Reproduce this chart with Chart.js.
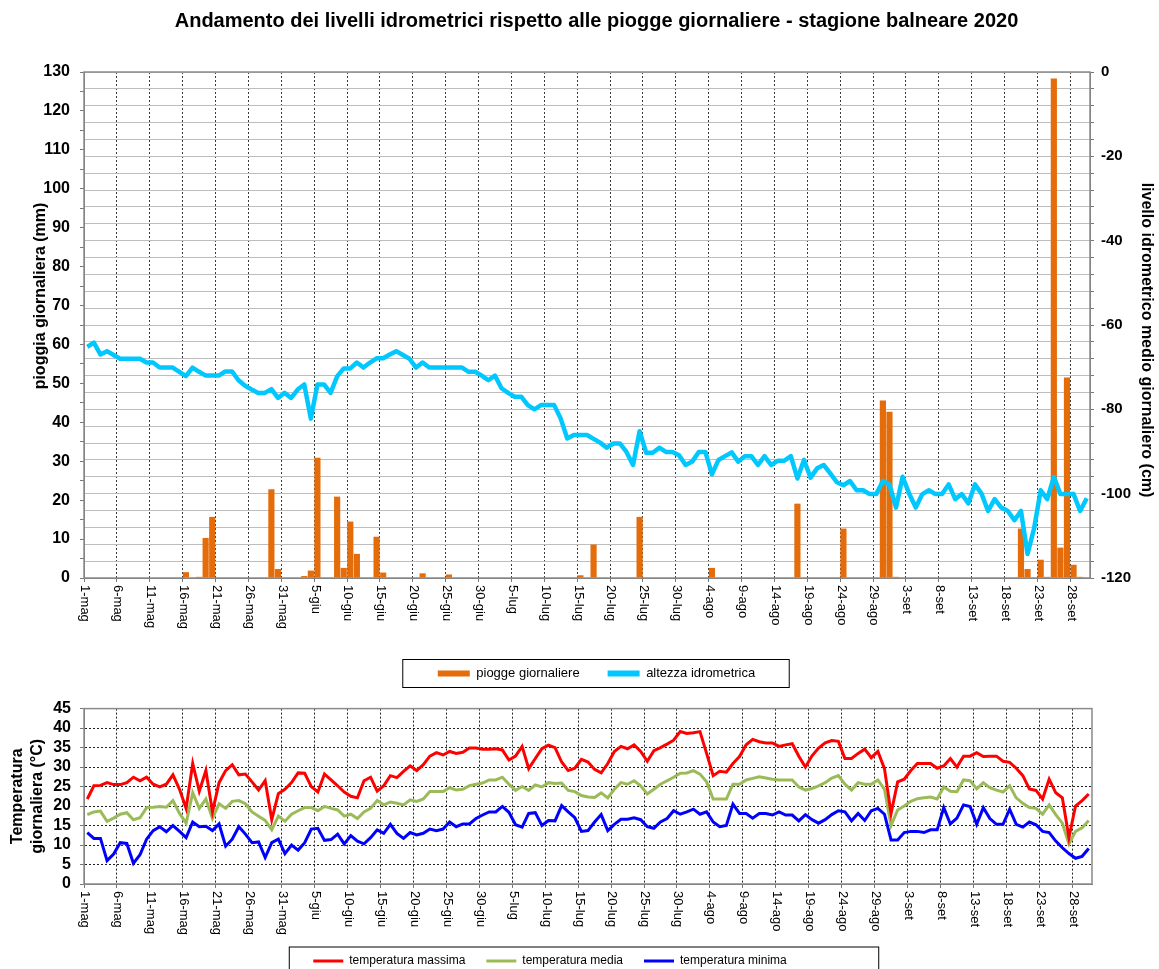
<!DOCTYPE html>
<html>
<head>
<meta charset="utf-8">
<script src="https://cdn.jsdelivr.net/npm/chart.js@4.4.0/dist/chart.umd.min.js"></script>
<style>
  body { margin: 0; background: #fff; }
  #wrap { position: relative; width: 1159px; height: 969px; overflow: hidden; }
  #top { position: absolute; left: 0; top: 0; width: 1159px; height: 690px; }
  #bottom { position: absolute; left: 0; top: 690px; width: 1159px; height: 287px; }
</style>
</head>
<body>
<div id="wrap">
  <div id="top"><canvas id="chartLivelli"></canvas></div>
  <div id="bottom"><canvas id="chartTemp"></canvas></div>
</div>
<script>
// one label every 5 days, 1-mag ... 28-set
const tickLabels = ['1-mag', '6-mag', '11-mag', '16-mag', '21-mag', '26-mag', '31-mag',
  '5-giu', '10-giu', '15-giu', '20-giu', '25-giu', '30-giu',
  '5-lug', '10-lug', '15-lug', '20-lug', '25-lug', '30-lug',
  '4-ago', '9-ago', '14-ago', '19-ago', '24-ago', '29-ago',
  '3-set', '8-set', '13-set', '18-set', '23-set', '28-set'];

// daily rain (mm), 1 May - 30 Sep 2020
const pioggia = [
  0, 0, 0, 0, 0, 0, 0, 0, 0, 0,
  0, 0, 0, 0, 0, 1.5, 0, 0.3, 10.3, 15.7,
  0, 0, 0, 0, 0, 0, 0, 0, 22.8, 2.3,
  0, 0, 0, 0.5, 1.9, 30.9, 0, 0, 20.9, 2.6,
  14.5, 6.2, 0, 0, 10.6, 1.4, 0, 0, 0, 0,
  0, 1.2, 0, 0, 0, 0.9, 0, 0, 0, 0,
  0, 0, 0, 0, 0, 0, 0, 0, 0, 0,
  0, 0, 0, 0, 0, 0.7, 0, 8.6, 0, 0,
  0, 0, 0, 0, 15.7, 0, 0, 0, 0, 0,
  0, 0, 0, 0, 0, 2.6, 0, 0, 0, 0,
  0, 0, 0, 0, 0, 0, 0, 0, 19.1, 0,
  0, 0, 0, 0, 0, 12.7, 0, 0, 0, 0,
  0, 45.6, 42.7, 0.3, 0, 0, 0, 0, 0, 0,
  0, 0, 0, 0, 0, 0, 0, 0, 0, 0,
  0, 0, 12.7, 2.3, 0, 4.7, 0.3, 128.3, 7.8, 51.5,
  3.4, 0.3, 0
];

// mean daily water level (cm)
const livello = [
  -65.2, -64.2, -67.0, -66.2, -67.1, -68.0, -68.0, -68.0, -68.0, -68.9,
  -68.9, -70.1, -70.1, -70.1, -71.1, -72.1, -70.1, -71.1, -72.0, -72.0,
  -72.0, -71.0, -71.0, -73.1, -74.4, -75.3, -76.1, -76.1, -75.2, -77.3,
  -76.1, -77.3, -75.3, -74.1, -82.2, -74.1, -74.1, -76.1, -72.2, -70.3,
  -70.3, -68.9, -70.1, -68.9, -67.9, -67.9, -67.0, -66.2, -67.1, -68.0,
  -70.1, -68.9, -70.1, -70.1, -70.1, -70.1, -70.1, -70.1, -71.1, -71.1,
  -72.0, -73.1, -72.0, -75.0, -76.1, -77.0, -77.0, -79.0, -80.0, -79.0,
  -79.0, -79.0, -82.2, -86.9, -86.1, -86.1, -86.1, -87.0, -87.9, -89.1,
  -88.1, -88.1, -90.1, -93.2, -85.2, -90.3, -90.3, -89.1, -90.1, -90.1,
  -90.9, -93.2, -92.4, -90.1, -90.1, -95.4, -92.0, -91.1, -90.2, -92.4,
  -91.1, -91.1, -93.2, -91.1, -93.2, -92.2, -92.2, -91.1, -96.4, -92.0,
  -96.2, -94.0, -93.2, -95.2, -97.3, -98.0, -97.0, -99.2, -99.2, -100.1,
  -100.1, -97.0, -97.8, -103.3, -96.0, -100.0, -103.3, -100.1, -99.2, -100.1,
  -100.1, -97.8, -101.3, -100.1, -102.3, -97.8, -100.0, -104.1, -101.3, -103.3,
  -104.1, -106.3, -104.1, -114.3, -108.2, -99.2, -101.3, -96.0, -100.1, -100.1,
  -100.1, -104.1, -101.1
];

// daily temperatures (°C)
const tMax = [
  21.8, 25.2, 25.3, 26.0, 25.5, 25.5, 26.0, 27.4, 26.5, 27.4,
  25.6, 24.9, 25.6, 28.0, 24.3, 19.4, 30.9, 23.8, 29.1, 18.5,
  26.0, 29.1, 30.6, 28.0, 28.2, 26.2, 24.1, 26.5, 16.5, 23.2,
  24.3, 26.0, 28.5, 28.4, 25.0, 23.6, 28.2, 26.7, 25.2, 23.6,
  22.5, 22.1, 26.5, 27.4, 23.8, 25.2, 27.8, 27.3, 28.9, 30.3,
  29.1, 30.6, 32.8, 33.7, 33.1, 34.0, 33.5, 33.8, 34.9, 34.9,
  34.6, 34.6, 34.7, 34.4, 31.8, 32.8, 35.3, 29.6, 32.2, 34.7,
  35.6, 35.0, 31.3, 29.1, 29.7, 32.0, 31.3, 29.4, 28.5, 30.9,
  34.0, 35.3, 34.7, 35.7, 34.0, 31.5, 34.2, 35.0, 35.9, 36.9,
  39.1, 38.6, 38.8, 39.1, 33.5, 27.8, 28.9, 28.7, 30.9, 32.7,
  35.7, 37.1, 36.5, 36.2, 36.2, 35.3, 35.7, 36.0, 32.8, 30.0,
  32.9, 34.9, 36.2, 36.8, 36.6, 32.2, 32.2, 33.5, 34.6, 32.4,
  34.0, 29.6, 18.1, 26.2, 26.9, 29.1, 30.9, 30.9, 30.9, 29.7,
  30.3, 32.2, 30.0, 32.8, 32.8, 33.7, 32.7, 32.8, 32.8, 31.5,
  31.2, 29.7, 27.8, 24.4, 24.0, 21.8, 26.9, 23.4, 22.1, 11.9,
  20.0, 21.4, 23.1
];
const tMed = [
  17.8, 18.5, 18.7, 16.1, 16.9, 17.9, 18.3, 16.5, 17.0, 19.6,
  19.7, 19.9, 19.7, 21.4, 18.1, 15.6, 23.4, 19.4, 21.8, 16.8,
  20.6, 19.4, 21.2, 21.4, 20.6, 18.5, 17.4, 16.3, 13.9, 17.4,
  16.1, 17.9, 18.8, 19.6, 19.6, 18.8, 19.9, 19.4, 19.0, 17.4,
  17.9, 16.8, 18.5, 19.4, 21.4, 20.3, 21.0, 20.7, 20.3, 21.6,
  21.2, 21.8, 23.7, 23.7, 23.7, 24.7, 24.1, 24.3, 25.2, 25.6,
  25.9, 26.7, 26.7, 27.4, 25.6, 24.0, 25.0, 24.0, 25.4, 24.9,
  26.0, 25.8, 25.9, 24.0, 23.7, 22.7, 22.3, 22.2, 23.4, 22.1,
  24.3, 26.0, 25.6, 26.5, 25.2, 23.1, 24.3, 25.6, 26.5, 27.4,
  28.4, 28.5, 29.1, 28.2, 26.2, 21.8, 21.8, 21.8, 25.6, 25.6,
  26.7, 27.1, 27.5, 27.2, 26.9, 26.7, 26.7, 26.7, 24.9, 24.1,
  24.5, 25.2, 26.0, 27.2, 27.8, 25.6, 24.1, 26.0, 25.6, 25.6,
  26.7, 24.3, 15.0, 19.0, 20.0, 21.2, 21.9, 22.1, 22.3, 21.8,
  24.9, 23.8, 23.7, 26.7, 26.5, 24.4, 26.0, 24.7, 24.1, 23.6,
  25.2, 22.1, 20.7, 19.6, 19.4, 17.9, 20.3, 17.8, 15.6, 10.3,
  13.5, 14.4, 16.3
];
const tMin = [
  13.2, 11.7, 11.7, 6.0, 7.7, 10.6, 10.4, 5.3, 7.5, 11.5,
  13.7, 14.7, 13.4, 15.0, 13.5, 11.9, 15.9, 14.7, 14.8, 13.7,
  15.4, 9.7, 11.5, 14.7, 12.8, 10.6, 10.8, 6.8, 10.6, 11.5,
  7.8, 10.0, 8.7, 10.6, 14.1, 14.3, 11.2, 11.4, 12.8, 10.3,
  12.4, 11.0, 10.3, 11.9, 13.9, 13.0, 15.3, 13.0, 11.7, 13.2,
  12.6, 13.0, 14.1, 13.7, 14.1, 15.9, 14.7, 15.4, 15.4, 16.8,
  17.7, 18.5, 18.5, 19.9, 18.4, 15.2, 14.6, 18.1, 18.3, 15.0,
  16.3, 16.2, 20.1, 18.5, 17.0, 13.5, 13.7, 15.9, 17.8, 13.7,
  15.3, 16.6, 16.6, 17.0, 16.5, 14.7, 14.3, 15.9, 16.8, 18.8,
  17.9, 18.5, 19.2, 17.9, 18.5, 15.9, 14.7, 15.0, 20.5, 18.1,
  18.1, 16.9, 18.1, 18.1, 17.7, 18.5, 17.7, 17.7, 16.2, 17.8,
  16.5, 15.6, 16.5, 17.8, 18.8, 18.5, 16.2, 18.1, 16.3, 18.8,
  19.4, 17.9, 11.3, 11.3, 13.2, 13.5, 13.5, 13.2, 13.9, 13.9,
  19.6, 15.4, 16.9, 20.3, 19.9, 15.3, 19.6, 16.8, 15.3, 15.3,
  19.2, 15.3, 14.6, 15.9, 15.2, 13.5, 13.2, 11.0, 9.3, 7.8,
  6.6, 7.1, 9.1
];

Chart.defaults.font.family = "'Liberation Sans', Arial, sans-serif";
Chart.defaults.color = '#000';

// each day sits in the middle of its slot on the date axis
function punti(valori) {
  return valori.map((v, i) => ({ x: i + 0.5, y: v }));
}

// legend swatches: plain filled boxes, in dataset order
function legendaSemplice(chart) {
  return chart.data.datasets.map((ds, i) => ({
    text: ds.label,
    fillStyle: ds.coloreLegenda,
    strokeStyle: ds.coloreLegenda,
    lineWidth: 0,
    hidden: false,
    datasetIndex: i
  }));
}

// date labels turned 90 degrees clockwise, like the Excel original
const etichetteRuotate = {
  id: 'etichetteRuotate',
  afterDraw(chart) {
    const scale = chart.scales.x;
    const ctx = chart.ctx;
    ctx.save();
    ctx.font = "13px 'Liberation Sans', Arial, sans-serif";
    ctx.fillStyle = '#000';
    ctx.textAlign = 'left';
    ctx.textBaseline = 'middle';
    scale.ticks.forEach(t => {
      const label = tickLabels[t.value / 5];
      if (label === undefined) return;
      ctx.save();
      ctx.translate(scale.getPixelForValue(t.value) + 1, scale.top + 7);
      ctx.rotate(Math.PI / 2);
      ctx.fillText(label, 0, 0);
      ctx.restore();
    });
    ctx.restore();
  }
};

// plot frame and the box around the legend
const cornice = {
  id: 'cornice',
  afterDraw(chart, args, opts) {
    const ctx = chart.ctx;
    const a = chart.chartArea;
    ctx.save();
    ctx.strokeStyle = opts.color;
    ctx.lineWidth = opts.width;
    ctx.strokeRect(a.left, a.top, a.right - a.left, a.bottom - a.top);
    const hb = chart.legend.legendHitBoxes;
    if (hb && hb.length) {
      const first = hb[0];
      const last = hb[hb.length - 1];
      const cy = first.top + first.height / 2;
      ctx.strokeStyle = '#000';
      ctx.lineWidth = 1;
      ctx.strokeRect(first.left - opts.boxLeft, cy - 14,
        last.left + last.width - first.left + opts.boxLeft + opts.boxRight, 28);
    }
    ctx.restore();
  }
};

// axis titles of the upper chart, placed where Excel put them (not centred)
const titoliAssi = {
  id: 'titoliAssi',
  afterDraw(chart, args, opts) {
    const ctx = chart.ctx;
    (opts.titoli || []).forEach(t => {
      ctx.save();
      ctx.font = 'bold ' + t.size + "px 'Liberation Sans', Arial, sans-serif";
      ctx.fillStyle = '#000';
      ctx.textAlign = 'center';
      ctx.textBaseline = 'middle';
      ctx.translate(t.x, t.y);
      ctx.rotate(t.rot);
      ctx.fillText(t.text, 0, 0);
      ctx.restore();
    });
  }
};

new Chart(document.getElementById('chartLivelli'), {
  type: 'bar',
  data: {
    datasets: [{
      type: 'bar',
      label: 'piogge giornaliere',
      data: punti(pioggia),
      yAxisID: 'y',
      backgroundColor: '#e46c0a',
      barPercentage: 1,
      categoryPercentage: 0.94,
      order: 2,
      coloreLegenda: '#e46c0a'
    }, {
      type: 'line',
      label: 'altezza idrometrica',
      data: punti(livello),
      yAxisID: 'y2',
      borderColor: '#00c8ff',
      borderWidth: 4.5,
      borderJoinStyle: 'round',
      pointRadius: 0,
      tension: 0,
      order: 1,
      coloreLegenda: '#00c8ff'
    }]
  },
  options: {
    responsive: true,
    maintainAspectRatio: false,
    animation: false,
    layout: { padding: { left: 34, right: 0, top: 0, bottom: 0 } },
    plugins: {
      title: {
        display: true,
        text: 'Andamento dei livelli idrometrici rispetto alle piogge giornaliere - stagione balneare 2020',
        font: { size: 20, weight: 'bold' },
        color: '#000',
        padding: { top: 9, bottom: 39 }
      },
      legend: {
        position: 'bottom',
        labels: {
          boxWidth: 32, boxHeight: 6, padding: 28,
          font: { size: 13 }, color: '#000',
          generateLabels: legendaSemplice
        }
      },
      tooltip: { enabled: false },
      cornice: { color: '#8a8a8a', width: 1.5, boxLeft: 35, boxRight: 34 },
      titoliAssi: {
        titoli: [
          { text: 'pioggia giornaliera (mm)', x: 41, y: 296, rot: -Math.PI / 2, size: 16 },
          { text: 'livello idrometrico medio giornaliero (cm)', x: 1146, y: 340, rot: Math.PI / 2, size: 16 }
        ]
      }
    },
    scales: {
      x: {
        type: 'linear', min: 0, max: 153, offset: false,
        afterFit: s => { s.height = 61; },
        ticks: { stepSize: 5, includeBounds: false, autoSkip: false, maxRotation: 0, callback: () => '' },
        grid: { color: '#3a3a3a', offset: false, tickLength: 4, tickColor: '#777' },
        border: { color: '#777', dash: [2, 2] }
      },
      y: {
        position: 'left', min: 0, max: 130,
        afterFit: s => { s.width = 50; },
        ticks: { stepSize: 5, autoSkip: false, padding: 10, font: { size: 16, weight: 'bold' }, color: '#000',
          callback: v => (v % 10 === 0 ? v : '') },
        grid: { drawOnChartArea: false, tickLength: 4, tickColor: '#777' },
        border: { color: '#777' }
      },
      y2: {
        position: 'right', min: -120, max: 0,
        afterFit: s => { s.width = 69; },
        ticks: { stepSize: 4, autoSkip: false, padding: 7, font: { size: 15, weight: 'bold' }, color: '#000',
          callback: v => (v % 20 === 0 ? v : '') },
        grid: { color: '#bdbdbd', tickLength: 4, tickColor: '#777' },
        border: { color: '#777' }
      }
    }
  },
  plugins: [cornice, etichetteRuotate, titoliAssi]
});

function lineaTemp(label, valori, colore) {
  return {
    label: label,
    data: punti(valori),
    borderColor: colore,
    borderWidth: 3,
    pointRadius: 0,
    tension: 0,
    coloreLegenda: colore
  };
}

new Chart(document.getElementById('chartTemp'), {
  type: 'line',
  data: {
    datasets: [
      lineaTemp('temperatura massima', tMax, '#ff0000'),
      lineaTemp('temperatura media', tMed, '#9bbb59'),
      lineaTemp('temperatura minima', tMin, '#0000ff')
    ]
  },
  options: {
    responsive: true,
    maintainAspectRatio: false,
    animation: false,
    layout: { padding: { left: 8, right: 67, top: 18, bottom: 0 } },
    plugins: {
      legend: {
        position: 'bottom',
        labels: {
          boxWidth: 30, boxHeight: 3, padding: 21,
          font: { size: 12 }, color: '#000',
          generateLabels: legendaSemplice
        }
      },
      tooltip: { enabled: false },
      cornice: { color: '#8a8a8a', width: 1.5, boxLeft: 24, boxRight: 92 }
    },
    scales: {
      x: {
        type: 'linear', min: 0, max: 153, offset: false,
        afterFit: s => { s.height = 50; },
        ticks: { stepSize: 5, includeBounds: false, autoSkip: false, maxRotation: 0, callback: () => '' },
        grid: { color: '#222', tickLength: 4, tickColor: '#777' },
        border: { color: '#777', dash: [2, 2] }
      },
      y: {
        min: 0, max: 45,
        afterFit: s => { s.width = 76; },
        ticks: { stepSize: 5, autoSkip: false, padding: 9, font: { size: 16, weight: 'bold' }, color: '#000' },
        grid: { color: '#222', tickLength: 4, tickColor: '#777' },
        border: { color: '#777', dash: [2, 2] },
        title: { display: true, text: ['Temperatura', 'giornaliera (°C)'],
          font: { size: 16, weight: 'bold', lineHeight: 1.25 }, color: '#000', padding: { top: 0, bottom: 0 } }
      }
    }
  },
  plugins: [cornice, etichetteRuotate]
});
</script>
</body>
</html>
